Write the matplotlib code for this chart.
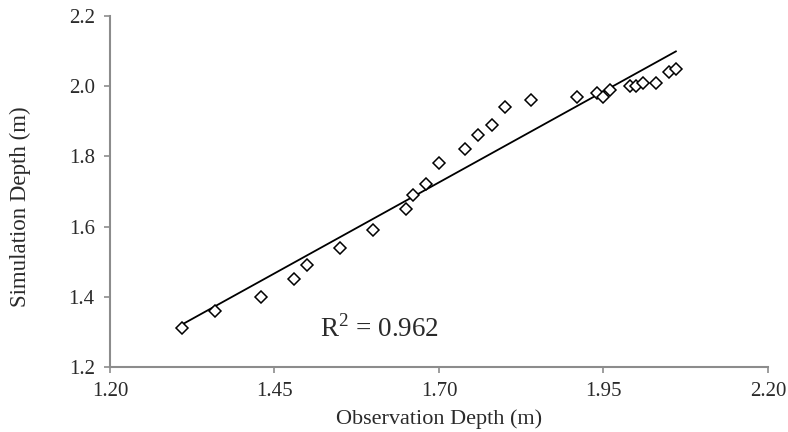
import numpy as np
import matplotlib
matplotlib.use("Agg")
import matplotlib.pyplot as plt

# observed vs simulated depth (m)
obs = [1.31, 1.36, 1.43, 1.48, 1.50, 1.55, 1.60, 1.65, 1.66, 1.68, 1.70,
       1.74, 1.76, 1.78, 1.80, 1.84, 1.91, 1.94, 1.95, 1.96, 1.99, 2.00,
       2.01, 2.03, 2.05, 2.06]
sim = [1.31, 1.36, 1.40, 1.45, 1.49, 1.54, 1.59, 1.65, 1.69, 1.72, 1.78,
       1.82, 1.86, 1.89, 1.94, 1.96, 1.97, 1.98, 1.97, 1.99, 2.00, 2.00,
       2.01, 2.01, 2.04, 2.05]
xticks = [1.20, 1.45, 1.70, 1.95, 2.20]
yticks = [1.2, 1.4, 1.6, 1.8, 2.0, 2.2]
r2_label = "R$^2$ = 0.962"

plt.rcParams['font.family'] = ['Liberation Serif', 'DejaVu Serif']
plt.rcParams['mathtext.fontset'] = 'custom'
plt.rcParams['mathtext.rm'] = 'Liberation Serif'

fig = plt.figure(figsize=(7.88, 4.32), dpi=100)
ax = fig.add_axes([0.1396, 0.1505, 0.835, 0.8125])

x = np.array(obs)
y = np.array(sim)
slope, icept = np.polyfit(x, y, 1)
xl = np.array([x.min(), x.max()])
ax.plot(xl, slope * xl + icept, color='black', lw=1.3, zorder=2)
ax.plot(x, y, 'D', markerfacecolor='white', markeredgecolor='black',
        markersize=6.5, markeredgewidth=1.1, zorder=3)

ax.set_xlim(1.20, 2.20)
ax.set_ylim(1.2, 2.2)
ax.set_xticks(xticks)
ax.set_xticklabels([f"{t:.2f}" for t in xticks])
ax.set_yticks(yticks)
ax.set_yticklabels([f"{t:.1f}" for t in yticks])

for s in ['top', 'right']:
    ax.spines[s].set_visible(False)
for s in ['left', 'bottom']:
    ax.spines[s].set_color('#8c8c8c')
    ax.spines[s].set_linewidth(1.5)
ax.tick_params(colors='#8c8c8c', labelcolor='#2a2a2a', labelsize=15,
               length=4, width=1.2, direction='out', pad=7)

ax.set_xlabel('Observation Depth (m)', fontsize=16, color='#2a2a2a', labelpad=6)
ax.set_ylabel('Simulation Depth (m)', fontsize=16.5, color='#2a2a2a')
ax.yaxis.set_label_coords(-0.12, 0.456)
ax.text(1.61, 1.31, r2_label, fontsize=19.5, color='#2a2a2a', ha='center', va='center')

fig.savefig('out.png', dpi=100)
